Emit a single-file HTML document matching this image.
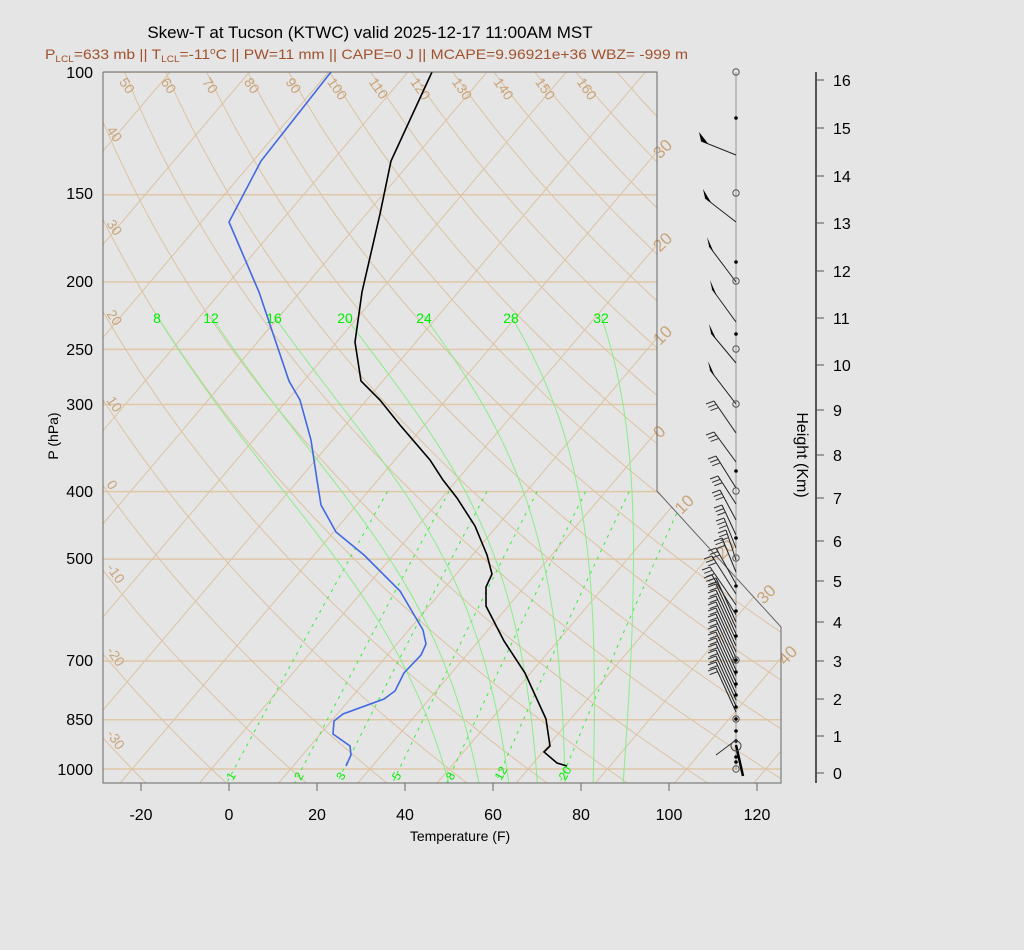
<!DOCTYPE html>
<html><head><meta charset="utf-8">
<style>
html,body{margin:0;padding:0;background:#e5e5e5;}
svg{display:block;font-family:"Liberation Sans",sans-serif;}
</style></head>
<body>
<svg id="s" width="1024" height="950" xmlns="http://www.w3.org/2000/svg">
<rect width="1024" height="950" fill="#e5e5e5"/>
<defs><clipPath id="cp"><polygon points="103,72 657,72 657,491 781,627 781,783 103,783"/></clipPath></defs>
<g id="bg" clip-path="url(#cp)"></g>
<g id="fg"></g>
<text x="370" y="38" font-size="17" text-anchor="middle" fill="#000">Skew-T at Tucson (KTWC) valid 2025-12-17 11:00AM MST</text>
<text x="45" y="59" font-size="14" fill="#a0522d" textLength="643" lengthAdjust="spacingAndGlyphs">P<tspan font-size="9" dy="3">LCL</tspan><tspan dy="-3">=633 mb || T</tspan><tspan font-size="9" dy="3">LCL</tspan><tspan dy="-3">=-11</tspan><tspan font-size="9" dy="-5">o</tspan><tspan dy="5">C || PW=11 mm || CAPE=0 J || MCAPE=9.96921e+36 WBZ= -999 m</tspan></text>
<text transform="translate(58,436) rotate(-90)" font-size="14" text-anchor="middle">P (hPa)</text>
<text x="460" y="841" font-size="14" text-anchor="middle">Temperature (F)</text>
<text transform="translate(797,455) rotate(90)" font-size="16" text-anchor="middle">Height (Km)</text>
</svg>
<script>
(function(){
var bg=document.getElementById('bg'),fg=document.getElementById('fg');
var B='',F='';
function yP(p){return 72+697*Math.log10(p/100);}
function xT(TC,y){return 229+4.4*(TC*1.8+32)+0.85*(769-y);}
var tan='#dcc3a2',tanL='#c9a47a';
[100,150,200,250,300,400,500,700,850,1000].forEach(function(p){var y=yP(p);
 B+='<line x1="103" y1="'+y+'" x2="781" y2="'+y+'" stroke="#dfc7a8" stroke-width="1.5"/>';});
for(var T=-140;T<=60;T+=10){
 B+='<line x1="'+xT(T,783)+'" y1="783" x2="'+xT(T,72)+'" y2="72" stroke="'+tan+'" stroke-width="1"/>';
}
for(var T=-30;T<=40;T+=10){
 var x,y;
 if(T<=0){y=769-(657-229-4.4*(T*1.8+32))/0.85; x=660;}
 else{
  var lo=0,hi=1;
  if(xT(T,627)>781){x=785;y=769-(781-229-4.4*(T*1.8+32))/0.85;}
  else{for(var i=0;i<40;i++){var m=(lo+hi)/2;var xx=657+124*m,yy=491+136*m;
   if(xT(T,yy)>xx)lo=m;else hi=m;}
  x=657+124*lo+10;y=491+136*lo;}
 }
 F+='<text transform="translate('+x+','+(y+8)+') rotate(-45)" font-size="17" fill="'+tanL+'">'+Math.abs(T)+'</text>';
}
for(var th=-40;th<=220;th+=10){
 var pts=[],lab=null;
 for(var p=100;p<=1060;p+=10){var y=yP(p);var TK=(th+273.15)*Math.pow(p/1000,0.2857);var x=xT(TK-273.15,y);
  pts.push(x.toFixed(1)+','+y.toFixed(1));}
 B+='<polyline points="'+pts.join(' ')+'" fill="none" stroke="'+tan+'" stroke-width="1"/>';
 for(var p=100;p<=1060;p+=1){var y=yP(p);var TK=(th+273.15)*Math.pow(p/1000,0.2857);var x=xT(TK-273.15,y);
  if(y>=84&&x>=112&&x<650){ if(y<100||x<125){lab=[x,y];} break;}}
 if(lab&&th>=-30&&th<=160){var lx,ly;if(lab[1]<100){lx=lab[0]-12;ly=82;}else{lx=106;ly=lab[1]-14;}
  F+='<text transform="translate('+lx+','+ly+') rotate(55)" font-size="14" fill="'+tanL+'">'+th+'</text>';}
}
[1,2,3,5,8,12,20].forEach(function(w){
 function xw(p){var y=yP(p);var e=w/1000*p/(0.622+w/1000);var l=Math.log(e/6.112);var Td=243.5*l/(17.67-l);return [xT(Td,y),y];}
 var pts=[];for(var p=400;p<=1060;p+=10){var q=xw(p);pts.push(q[0].toFixed(1)+','+q[1].toFixed(1));}
 B+='<polyline points="'+pts.join(' ')+'" fill="none" stroke="#33ee33" stroke-width="1" stroke-dasharray="3,5"/>';
 var lp=100*Math.pow(10,(777-72)/697);var q=xw(lp);
 F+='<text transform="translate('+(q[0]+3)+','+781+') rotate(-60)" font-size="12" fill="#00ee00">'+w+'</text>';
});
function es(Tc){return 6.112*Math.exp(17.67*Tc/(Tc+243.5));}
function integ(T1000,pEnd){var T=T1000+273.15,p=1000,out=[[p,T]];var dp=pEnd<1000?-2:2;
 while((dp<0&&p>pEnd)||(dp>0&&p<pEnd)){var e=es(T-273.15),rs=0.622*e/(p-e);
  var d=(287*T+2.5e6*rs)/(p*(1004+2.5e6*2.5e6*rs*0.622/(287*T*T)));T+=d*dp;p+=dp;out.push([p,T]);}
 return out;}
var pl=100*Math.pow(10,246/697);
var labs=[[8,157],[12,211],[16,274],[20,345],[24,424],[28,511],[32,601]];
labs.forEach(function(L){
 var lo=-40,hi=60;
 for(var i=0;i<30;i++){var m=(lo+hi)/2;var a=integ(m,pl);var last=a[a.length-1];var x=xT(last[1]-273.15,yP(last[0]));if(x>L[1])hi=m;else lo=m;}
 var t0=(lo+hi)/2;
 var up=integ(t0,pl),dn=integ(t0,1060);
 var pts=[];up.reverse().concat(dn).forEach(function(q){var y=yP(q[0]);pts.push(xT(q[1]-273.15,y).toFixed(1)+','+y.toFixed(1));});
 B+='<polyline points="'+pts.join(' ')+'" fill="none" stroke="#88ee88" stroke-width="1"/>';
 F+='<text x="'+L[1]+'" y="323" font-size="14" fill="#00ee00" text-anchor="middle">'+L[0]+'</text>';
});
var Tp=[[432,72],[391,161],[380,214],[362,292],[355,342],[361,381],[380,400],[400,425],[430,460],[443,480],[457,498],[475,526],[487,555],[492,574],[486,587],[486,606],[504,641],[525,673],[546,719],[550,746],[544,752],[557,763],[567,766]];
var Dp=[[331,72],[261,161],[229,222],[259,292],[289,381],[300,400],[311,440],[317,480],[321,505],[336,532],[364,555],[400,591],[423,630],[426,644],[421,655],[404,673],[395,691],[384,699],[343,714],[334,721],[333,734],[350,746],[351,755],[346,766]];
function pl2(a){return a.map(function(q){return q.join(',')}).join(' ');}
F+='<polyline points="'+pl2(Dp)+'" fill="none" stroke="#4169e1" stroke-width="1.6"/>';
F+='<polyline points="'+pl2(Tp)+'" fill="none" stroke="#000" stroke-width="1.6"/>';
F+='<polyline points="103,72 657,72 657,491 781,627 781,783 103,783 103,72" fill="none" stroke="#666" stroke-width="1"/>';
[[100,72],[150,193],[200,281],[250,349],[300,404],[400,491],[500,558],[700,660],[850,719],[1000,769]].forEach(function(a){
 F+='<text x="93" y="'+(a[1]+6)+'" font-size="16" text-anchor="end">'+a[0]+'</text>';});
for(var t=-20;t<=120;t+=20){var x=229+4.4*t;F+='<line x1="'+x+'" y1="783" x2="'+x+'" y2="791" stroke="#666"/>';
 F+='<text x="'+x+'" y="820" font-size="16" text-anchor="middle">'+t+'</text>';}
F+='<line x1="141" y1="783" x2="757" y2="783" stroke="#666"/>';
F+='<line x1="816" y1="72" x2="816" y2="783" stroke="#555" stroke-width="2"/>';
var hy=[773,736,699,661,622,581,541,498,455,410,365,318,271,223,176,128,80];
for(var k=0;k<=16;k++){var y=hy[k];F+='<line x1="816" y1="'+y+'" x2="824" y2="'+y+'" stroke="#555"/>';
 F+='<text x="833" y="'+(y+6)+'" font-size="16">'+k+'</text>';}
F+='<line x1="736" y1="72" x2="736" y2="770" stroke="#999"/>';
function barb(y,dx,dy,kind,n){var x2=736+dx,y2=y+dy;F+='<line x1="736" y1="'+y+'" x2="'+x2+'" y2="'+y2+'" stroke="#222" stroke-width="1"/>';
 var L=Math.sqrt(dx*dx+dy*dy),ux=dx/L,uy=dy/L;
 if(kind=='f'){F+='<polygon points="'+x2+','+y2+' '+(x2-ux*8)+','+(y2-uy*8)+' '+(x2-2)+','+(y2-9)+'" fill="#000"/>';}
 else{for(var i=0;i<n;i++){var px=x2-ux*4*i,py=y2-uy*4*i;F+='<line x1="'+px+'" y1="'+py+'" x2="'+(px-8)+'" y2="'+(py+3)+'" stroke="#333"/>';}}}
[[155,-35,-14],[222,-31,-24],[282,-27,-36],[322,-24,-33],[363,-25,-30],[404,-26,-34]].forEach(function(b){barb(b[0],b[1],b[2],'f');});
[[433,-22,-32],[462,-22,-30],[488,-20,-32],[504,-18,-28],[520,-16,-30],[535,-14,-30],[548,-12,-30],[560,-10,-30],[572,-14,-34],[584,-20,-36],[594,-24,-38],[605,-26,-38],[615,-24,-40]].forEach(function(b){barb(b[0],b[1],b[2],'b',3);});
for(var y=622;y<=716;y+=6){barb(y,-20,-44,'b',2);}
F+='<line x1="736" y1="740" x2="716" y2="755" stroke="#333"/>';
F+='<line x1="736" y1="745" x2="743" y2="776" stroke="#000" stroke-width="2.5"/>';
[118,262,334,471,538,586,611,636,660,672,684,695,707,719,731,741,757,762].forEach(function(y){F+='<circle cx="736" cy="'+y+'" r="1.8" fill="#000"/>';});
[72,193,281,349,404,491,558,660,719,769].forEach(function(y){F+='<circle cx="736" cy="'+y+'" r="3.2" fill="none" stroke="#555"/>';});
F+='<circle cx="736" cy="746" r="5" fill="none" stroke="#444"/>';
bg.innerHTML=B;fg.innerHTML=F;
})();
</script>
</body></html>
